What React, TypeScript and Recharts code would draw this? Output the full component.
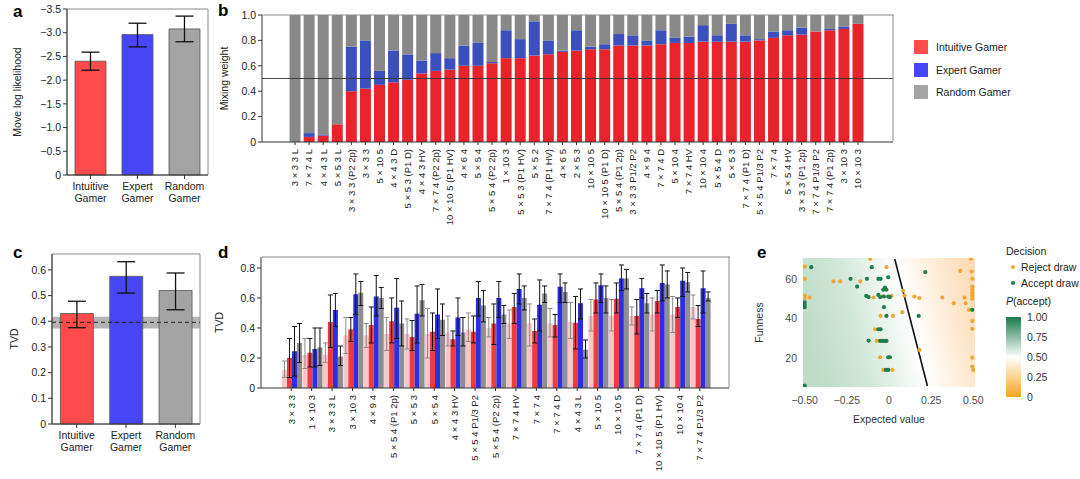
import React from 'react';
import {
  BarChart,
  Bar,
  XAxis,
  YAxis,
  ErrorBar,
  Cell,
  ReferenceLine,
  ReferenceArea,
  ScatterChart,
  Scatter,
  CartesianGrid,
} from 'recharts';

const FONT = '"Liberation Sans", Arial, Helvetica, sans-serif';

// ---- panel a / c : the three models
const gamers = ['Intuitive Gamer', 'Expert Gamer', 'Random Gamer'];
const gamerColors = ['#ff4b4b', '#4646f6', '#a3a3a3'];

const logLik = [-2.4, -2.96, -3.08];
const logLikLow = [-2.21, -2.7, -2.81];
const logLikHigh = [-2.59, -3.2, -3.35];

const tvd = [0.43, 0.575, 0.52];
const tvdLow = [0.375, 0.51, 0.445];
const tvdHigh = [0.478, 0.632, 0.588];
const noiseCeiling = 0.396;
const noiseBand = [0.372, 0.418];

// ---- panel b : mixing weights per game variant
const variantsB = [
  '3 × 3 3 L', '7 × 7 4 L', '4 × 4 3 L', '5 × 5 3 L', '3 × 3 3 (P2 2p)', '3 × 3 3',
  '5 × 10 5', '4 × 4 3 D', '5 × 5 3 (P1 D)', '4 × 4 3 HV', '7 × 7 4 (P2 2p)',
  '10 × 10 5 (P1 HV)', '4 × 6 4', '5 × 5 4', '5 × 5 4 (P2 2p)', '1 × 10 3',
  '5 × 5 3 (P1 HV)', '5 × 5 2', '7 × 7 4 (P1 HV)', '4 × 6 5', '2 × 5 3', '10 × 10 5',
  '10 × 10 5 (P1 D)', '5 × 5 4 (P1 2p)', '3 × 3 3 P1/2 P2', '4 × 9 4', '7 × 7 4 D',
  '5 × 10 4', '7 × 7 4 HV', '10 × 10 4', '5 × 5 4 D', '5 × 5 3', '7 × 7 4 (P1 D)',
  '5 × 5 4 P1/3 P2', '7 × 7 4', '5 × 5 4 HV', '3 × 3 3 (P1 2p)', '7 × 7 4 P1/3 P2',
  '7 × 7 4 (P1 2p)', '3 × 10 3', '10 × 10 3',
];
const weightIntuitive = [
  0, 0.04, 0.05, 0.14, 0.4, 0.42, 0.45, 0.47, 0.49, 0.54, 0.56, 0.57, 0.6, 0.6, 0.62,
  0.66, 0.66, 0.68, 0.69, 0.71, 0.72, 0.73, 0.73, 0.76, 0.76, 0.76, 0.77, 0.78, 0.78,
  0.79, 0.79, 0.79, 0.79, 0.8, 0.82, 0.84, 0.845, 0.87, 0.88, 0.89, 0.93,
];
const weightExpert = [
  0, 0.03, 0.01, 0, 0.35, 0.38, 0.11, 0.25, 0.2, 0.1, 0.14, 0.09, 0.16, 0.18, 0.01,
  0.22, 0.15, 0.27, 0.11, 0.01, 0.16, 0.02, 0.04, 0.09, 0.08, 0.04, 0.11, 0.04, 0.05,
  0.13, 0.05, 0.14, 0.05, 0.01, 0.05, 0.04, 0.055, 0, 0.01, 0.02, 0,
];
const weightRandom = [
  1, 0.93, 0.94, 0.86, 0.25, 0.2, 0.44, 0.28, 0.31, 0.36, 0.3, 0.34, 0.24, 0.22, 0.37,
  0.12, 0.19, 0.05, 0.2, 0.28, 0.12, 0.25, 0.23, 0.15, 0.16, 0.2, 0.12, 0.18, 0.17,
  0.08, 0.16, 0.07, 0.16, 0.19, 0.13, 0.12, 0.1, 0.13, 0.11, 0.09, 0.07,
];

// ---- panel d : TVD per variant
const variantsD = [
  '3 × 3 3', '1 × 10 3', '3 × 3 3 L', '3 × 10 3', '4 × 9 4', '5 × 5 4 (P1 2p)',
  '5 × 5 3', '5 × 5 4', '4 × 4 3 HV', '5 × 5 4 P1/3 P2', '5 × 5 4 (P2 2p)',
  '7 × 7 4 HV', '7 × 7 4', '7 × 7 4 D', '4 × 4 3 L', '5 × 10 5', '10 × 10 5',
  '7 × 7 4 (P1 D)', '10 × 10 5 (P1 HV)', '10 × 10 4', '7 × 7 4 P1/3 P2',
];
const tvdBaseline = [0.12, 0.22, 0.22, 0.35, 0.35, 0.36, 0.36, 0.36, 0.37, 0.39, 0.4, 0.43, 0.43, 0.43, 0.44, 0.48, 0.48, 0.48, 0.49, 0.49, 0.54];
const tvdBaselineLo = [0.07, 0.13, 0.17, 0.23, 0.27, 0.25, 0.26, 0.2, 0.28, 0.31, 0.34, 0.33, 0.28, 0.34, 0.33, 0.38, 0.38, 0.42, 0.38, 0.37, 0.46];
const tvdBaselineHi = [0.18, 0.33, 0.3, 0.47, 0.43, 0.47, 0.46, 0.53, 0.48, 0.5, 0.47, 0.52, 0.56, 0.53, 0.57, 0.59, 0.59, 0.54, 0.6, 0.61, 0.62];
const tvdIntuitive = [0.2, 0.235, 0.44, 0.39, 0.42, 0.445, 0.34, 0.375, 0.325, 0.375, 0.43, 0.54, 0.38, 0.42, 0.435, 0.59, 0.595, 0.48, 0.58, 0.54, 0.46];
const tvdIntuitiveLo = [0.07, 0.14, 0.27, 0.31, 0.3, 0.3, 0.25, 0.25, 0.28, 0.3, 0.29, 0.43, 0.3, 0.34, 0.26, 0.5, 0.5, 0.36, 0.5, 0.47, 0.41];
const tvdIntuitiveHi = [0.33, 0.33, 0.62, 0.47, 0.54, 0.6, 0.45, 0.5, 0.38, 0.48, 0.56, 0.63, 0.46, 0.49, 0.61, 0.7, 0.7, 0.59, 0.65, 0.6, 0.55];
const tvdExpert = [0.245, 0.26, 0.52, 0.625, 0.61, 0.535, 0.495, 0.49, 0.47, 0.6, 0.6, 0.66, 0.555, 0.675, 0.565, 0.685, 0.73, 0.665, 0.7, 0.715, 0.665];
const tvdExpertLo = [0.08, 0.14, 0.41, 0.49, 0.48, 0.33, 0.3, 0.33, 0.35, 0.48, 0.47, 0.56, 0.38, 0.57, 0.46, 0.57, 0.65, 0.6, 0.58, 0.61, 0.5];
const tvdExpertHi = [0.41, 0.4, 0.63, 0.76, 0.75, 0.73, 0.68, 0.66, 0.6, 0.71, 0.71, 0.76, 0.72, 0.76, 0.66, 0.76, 0.82, 0.73, 0.82, 0.8, 0.78];
const tvdRandom = [0.3, 0.27, 0.21, 0.635, 0.6, 0.43, 0.585, 0.455, 0.37, 0.55, 0.49, 0.6, 0.63, 0.64, 0.255, 0.6, 0.73, 0.565, 0.69, 0.705, 0.6];
const tvdRandomLo = [0.17, 0.15, 0.15, 0.55, 0.53, 0.28, 0.48, 0.35, 0.28, 0.44, 0.43, 0.52, 0.57, 0.57, 0.2, 0.5, 0.66, 0.5, 0.6, 0.64, 0.58];
const tvdRandomHi = [0.43, 0.4, 0.28, 0.71, 0.67, 0.58, 0.69, 0.56, 0.47, 0.65, 0.55, 0.68, 0.68, 0.7, 0.32, 0.68, 0.79, 0.63, 0.78, 0.77, 0.64];

// ---- panel e : draw decisions
const rejectX = [
  -0.112, -0.5, -0.015, -0.5, -0.329, -0.29, -0.17, -0.5, -0.47, -0.5, -0.092, -0.044,
  0.015, 0.083, 0.093, 0.15, 0.18, 0.316, 0.384, 0.422, 0.448, 0.455, 0.475, 0.486,
  0.49, 0.494, 0.494, 0.494, 0.494, 0.494, 0.494, 0.494, 0.494, 0.494, 0.494, 0.5,
  -0.05, 0.024, 0.079, -0.083, -0.073, -0.053, -0.034, 0.02, 0.18,
];
const rejectY = [
  70.1, 66.2, 65.9, 60, 58.7, 58.7, 58.7, 51.4, 50.6, 50.3, 50.6, 51.1,
  51.4, 54, 51.6, 51.1, 50.3, 50.6, 47.7, 64, 50.6, 47.7, 44.4, 70.1,
  63.7, 60, 56.1, 54.5, 53, 51.5, 50, 38.8, 34.8, 20.3, 15.8, 14.1,
  41.3, 41.3, 43.2, 34.6, 28.7, 20.5, 14.1, 14.1, 24.2,
];
const acceptX = [
  -0.461, -0.102, -0.228, -0.131, -0.063, -0.05, -0.005, -0.189, -0.024, -0.034, -0.015,
  -0.135, -0.121, -0.063, -0.053, -0.03, -0.005, 0.005, -0.5, -0.5, -0.5, -0.03, -0.015,
  0.176, 0.215, 0.494, -0.063, -0.05, -0.121, -0.053, -0.038, -0.024, -0.015, -0.005,
  0.005, -0.019, -0.005, -0.5,
];
const acceptY = [
  65.9, 65.9, 60, 60, 60, 60, 60.8, 56.1, 55.6, 54.5, 54.5,
  51.4, 50.8, 51.9, 50.8, 51.1, 51.1, 50.8, 48.1, 46.9, 45.7, 45.7, 41.3,
  41.3, 63.4, 44.4, 34.6, 34.6, 28.9, 28.7, 28.7, 28.7, 28.7, 20.5,
  20.5, 14.1, 14.1, 6.2,
];
const boundaryX = [0.034, 0.228];
const boundaryY = [70, 6];

const errOf = (v: number, a: number, b: number) => [v - Math.min(a, b), Math.max(a, b) - v];

const GamerTick = ({ x, y, payload }: any) => {
  const [first, second] = String(payload.value).split(' ');
  return (
    <text x={x} y={y} textAnchor="middle" fill="#222" fontSize={10.5} fontFamily={FONT}>
      <tspan x={x} dy={9}>{first}</tspan>
      <tspan x={x} dy={11.5}>{second}</tspan>
    </text>
  );
};

const RotTick = ({ x, y, payload }: any) => (
  <g transform={`translate(${x},${y})`}>
    <text x={0} y={0} dx={-2} dy="0.35em" transform="rotate(-90)" textAnchor="end" fill="#222" fontSize={9.5} fontFamily={FONT}>
      {payload.value}
    </text>
  </g>
);

const tickStyle = { fontSize: 10.5, fill: '#222', fontFamily: FONT };
const axisStroke = { stroke: '#333' };

const fmtNeg = (v: number) => (v === 0 ? '0' : '\u2212' + Math.abs(v).toFixed(1));
const fmtDec = (v: number) => (v === 0 ? '0' : v.toFixed(1));
const fmtE = (v: number) => (v === 0 ? '0' : (v < 0 ? '\u2212' : '') + Math.abs(v).toFixed(2));

const PanelLetter = ({ ch, x, y }: { ch: string; x: number; y: number }) => (
  <div style={{ position: 'absolute', left: x, top: y, fontWeight: 700, fontSize: 17, lineHeight: '17px', fontFamily: FONT }}>{ch}</div>
);

// layout of the wide bar panels (b and d), shared by the chart and its frame
const B = { w: 700, h: 235, top: 15, right: 12, yAxisW: 57, xAxisH: 93 };
const D = { w: 535, h: 230, top: 12, right: 11, yAxisW: 56, xAxisH: 87 };

// top + right edge of the plot box, drawn over the chart
const Frame = ({ l }: { l: typeof B }) => (
  <div
    style={{
      position: 'absolute',
      left: l.yAxisW,
      top: l.top,
      width: l.w - l.right - l.yAxisW,
      height: l.h - l.xAxisH - l.top,
      borderTop: '1px solid #8a8a8a',
      borderRight: '1px solid #8a8a8a',
      boxSizing: 'border-box',
      transform: 'translate(0.5px, -0.5px)',
      pointerEvents: 'none',
    }}
  />
);

function PanelA() {
  const data = gamers.map((g, i) => ({ name: g, value: logLik[i], err: errOf(logLik[i], logLikLow[i], logLikHigh[i]) }));
  return (
    <BarChart width={216} height={215} data={data} margin={{ top: 9, right: 8, left: 0, bottom: 0 }} barCategoryGap="17%">
      <XAxis dataKey="name" interval={0} height={40} tick={<GamerTick />} tickLine={axisStroke} axisLine={axisStroke} tickSize={4} />
      <YAxis
        domain={[-3.5, 0]}
        reversed
        ticks={[0, -0.5, -1, -1.5, -2, -2.5, -3, -3.5]}
        tickFormatter={fmtNeg}
        width={67}
        tick={tickStyle}
        tickLine={axisStroke}
        axisLine={axisStroke}
        tickSize={4}
        label={{ value: 'Move log likelihood', angle: -90, position: 'insideLeft', offset: 17, style: { textAnchor: 'middle', fontSize: 10.5, fill: '#222', fontFamily: FONT } }}
      />
      <ReferenceArea y1={0} y2={-3.5} fill="none" stroke="#8a8a8a" />
      <Bar dataKey="value" isAnimationActive={false} stroke="#555" strokeWidth={0.8}>
        {data.map((d, i) => (
          <Cell key={d.name} fill={gamerColors[i]} />
        ))}
        <ErrorBar dataKey="err" width={9} stroke="#111" strokeWidth={1.3} />
      </Bar>
    </BarChart>
  );
}

function PanelB() {
  const data = variantsB.map((v, i) => ({ name: v, intuitive: weightIntuitive[i], expert: weightExpert[i], random: weightRandom[i] }));
  return (
    <BarChart width={B.w} height={B.h} data={data} margin={{ top: B.top, right: B.right, left: 0, bottom: 0 }} barCategoryGap="11%">
      <XAxis dataKey="name" interval={0} height={B.xAxisH} tick={<RotTick />} tickLine={axisStroke} axisLine={axisStroke} tickSize={3} padding={{ left: 26, right: 28 }} />
      <YAxis
        domain={[0, 1]}
        ticks={[0, 0.2, 0.4, 0.6, 0.8, 1]}
        tickFormatter={fmtDec}
        width={B.yAxisW}
        tick={tickStyle}
        tickLine={axisStroke}
        axisLine={axisStroke}
        tickSize={4}
        label={{ value: 'Mixing weight', angle: -90, position: 'insideLeft', offset: 19, style: { textAnchor: 'middle', fontSize: 10.5, fill: '#222', fontFamily: FONT } }}
      />
      <Bar dataKey="intuitive" stackId="w" fill="#e8232b" isAnimationActive={false} />
      <Bar dataKey="expert" stackId="w" fill="#3b4fbd" isAnimationActive={false} />
      <Bar dataKey="random" stackId="w" fill="#888888" isAnimationActive={false} />
      <ReferenceLine y={0.5} stroke="#333" strokeWidth={0.9} />
    </BarChart>
  );
}

function LegendB() {
  return (
    <div style={{ position: 'absolute', left: 914, top: 36, fontFamily: FONT, fontSize: 10.5, color: '#222' }}>
      {gamers.map((g, i) => (
        <div key={g} style={{ display: 'flex', alignItems: 'center', height: 22.5 }}>
          <div style={{ width: 14, height: 14, background: gamerColors[i], marginRight: 8 }} />
          <span>{g}</span>
        </div>
      ))}
    </div>
  );
}

function PanelC() {
  const data = gamers.map((g, i) => ({ name: g, value: tvd[i], err: errOf(tvd[i], tvdLow[i], tvdHigh[i]) }));
  return (
    <BarChart width={210} height={230} data={data} margin={{ top: 9, right: 10, left: 0, bottom: 0 }} barCategoryGap="17%">
      <XAxis dataKey="name" interval={0} height={51} tick={<GamerTick />} tickLine={axisStroke} axisLine={axisStroke} tickSize={4} />
      <YAxis
        domain={[0, 0.662]}
        ticks={[0, 0.1, 0.2, 0.3, 0.4, 0.5, 0.6]}
        tickFormatter={fmtDec}
        width={52}
        tick={tickStyle}
        tickLine={axisStroke}
        axisLine={axisStroke}
        tickSize={4}
        label={{ value: 'TVD', angle: -90, position: 'insideLeft', offset: 14, style: { textAnchor: 'middle', fontSize: 10.5, fill: '#222', fontFamily: FONT } }}
      />
      <Bar dataKey="value" isAnimationActive={false} stroke="#555" strokeWidth={0.8}>
        {data.map((d, i) => (
          <Cell key={d.name} fill={gamerColors[i]} />
        ))}
        <ErrorBar dataKey="err" width={9} stroke="#111" strokeWidth={1.3} />
      </Bar>
      <ReferenceArea y1={noiseBand[0]} y2={noiseBand[1]} fill="#777" fillOpacity={0.55} stroke="none" />
      <ReferenceLine y={noiseCeiling} stroke="#222" strokeDasharray="4 3" strokeWidth={1} />
      <ReferenceArea y1={0} y2={0.662} fill="none" stroke="#8a8a8a" />
    </BarChart>
  );
}

function PanelD() {
  const data = variantsD.map((v, i) => ({
    name: v,
    baseline: tvdBaseline[i],
    baselineErr: errOf(tvdBaseline[i], tvdBaselineLo[i], tvdBaselineHi[i]),
    intuitive: tvdIntuitive[i],
    intuitiveErr: errOf(tvdIntuitive[i], tvdIntuitiveLo[i], tvdIntuitiveHi[i]),
    expert: tvdExpert[i],
    expertErr: errOf(tvdExpert[i], tvdExpertLo[i], tvdExpertHi[i]),
    random: tvdRandom[i],
    randomErr: errOf(tvdRandom[i], tvdRandomLo[i], tvdRandomHi[i]),
  }));
  return (
    <BarChart width={D.w} height={D.h} data={data} margin={{ top: D.top, right: D.right, left: 0, bottom: 0 }} barCategoryGap="5%" barGap={0}>
      <XAxis dataKey="name" interval={0} height={D.xAxisH} tick={<RotTick />} tickLine={axisStroke} axisLine={axisStroke} tickSize={3} padding={{ left: 20, right: 19 }} />
      <YAxis
        domain={[0, 0.873]}
        ticks={[0, 0.1, 0.2, 0.3, 0.4, 0.5, 0.6, 0.7, 0.8]}
        tickFormatter={fmtDec}
        width={D.yAxisW}
        tick={tickStyle}
        tickLine={axisStroke}
        axisLine={axisStroke}
        tickSize={4}
        label={{ value: 'TVD', angle: -90, position: 'insideLeft', offset: 14, style: { textAnchor: 'middle', fontSize: 10.5, fill: '#222', fontFamily: FONT } }}
      />
      <Bar dataKey="baseline" fill="#f8c6cc" isAnimationActive={false}>
        <ErrorBar dataKey="baselineErr" width={2.5} stroke="#8a8a8a" strokeWidth={1} />
      </Bar>
      <Bar dataKey="intuitive" fill="#f03b3b" isAnimationActive={false}>
        <ErrorBar dataKey="intuitiveErr" width={2.5} stroke="#111" strokeWidth={1} />
      </Bar>
      <Bar dataKey="expert" fill="#2d2de2" isAnimationActive={false}>
        <ErrorBar dataKey="expertErr" width={2.5} stroke="#111" strokeWidth={1} />
      </Bar>
      <Bar dataKey="random" fill="#8e8e8e" isAnimationActive={false}>
        <ErrorBar dataKey="randomErr" width={2.5} stroke="#111" strokeWidth={1} />
      </Bar>
    </BarChart>
  );
}

const Dot = (color: string) => (p: any) => <circle cx={p.cx} cy={p.cy} r={2.1} fill={color} />;

function PanelE() {
  const reject = rejectX.map((x, i) => ({ x, y: rejectY[i] }));
  const accept = acceptX.map((x, i) => ({ x, y: acceptY[i] }));
  const eTick = { fontSize: 10.5, fill: '#4a4a4a', fontFamily: FONT };
  return (
    <ScatterChart width={240} height={185} margin={{ top: 13, right: 10, left: 0, bottom: 0 }}>
      <defs>
        <linearGradient id="paccept" x1="0" y1="0.5" x2="1" y2="0.306">
          <stop offset="0" stopColor="#bcdcc8" />
          <stop offset="0.3" stopColor="#d3e8da" />
          <stop offset="0.608" stopColor="#ffffff" />
          <stop offset="1" stopColor="#fddcb6" />
        </linearGradient>
      </defs>
      <XAxis
        type="number"
        dataKey="x"
        domain={[-0.51, 0.51]}
        ticks={[-0.5, -0.25, 0, 0.25, 0.5]}
        tickFormatter={fmtE}
        height={43}
        tick={eTick}
        tickLine={false}
        axisLine={false}
        tickSize={8}
        allowDataOverflow
        label={{ value: 'Expected value', position: 'insideBottom', offset: 7, style: { fontSize: 10.5, fill: '#333', fontFamily: FONT } }}
      />
      <YAxis
        type="number"
        dataKey="y"
        domain={[5.5, 70.5]}
        ticks={[20, 40, 60]}
        width={58}
        tick={eTick}
        tickLine={false}
        axisLine={false}
        tickSize={4}
        allowDataOverflow
        label={{ value: 'Funness', angle: -90, position: 'insideLeft', offset: 14, style: { textAnchor: 'middle', fontSize: 10.5, fill: '#333', fontFamily: FONT } }}
      />
      <ReferenceArea x1={-0.51} x2={0.51} y1={5.5} y2={70.5} fill="url(#paccept)" fillOpacity={1} stroke="none" />
      <CartesianGrid stroke="#ffffff" strokeOpacity={0.45} />
      <ReferenceLine
        segment={[
          { x: boundaryX[0], y: boundaryY[0] },
          { x: boundaryX[1], y: boundaryY[1] },
        ]}
        stroke="#111"
        strokeWidth={1.6}
      />
      <Scatter name="Reject draw" data={reject} fill="#f2a633" shape={Dot('#f2a633')} isAnimationActive={false} />
      <Scatter name="Accept draw" data={accept} fill="#1f7d4d" shape={Dot('#1f7d4d')} isAnimationActive={false} />
    </ScatterChart>
  );
}

const colorbarTicks = ['1.00', '0.75', '0.50', '0.25', '0'];

function LegendE() {
  return (
    <svg width={80} height={175} style={{ position: 'absolute', left: 1000, top: 240 }} fontFamily={FONT}>
      <defs>
        <linearGradient id="cbar" x1="0" y1="0" x2="0" y2="1">
          <stop offset="0" stopColor="#1b7a4a" />
          <stop offset="0.5" stopColor="#ffffff" />
          <stop offset="1" stopColor="#f5a51f" />
        </linearGradient>
      </defs>
      <text x={6} y={15} fontSize={10.5} fill="#222">Decision</text>
      <circle cx={13} cy={27} r={2.1} fill="#f2a633" />
      <text x={21} y={31} fontSize={10.5} fill="#222">Reject draw</text>
      <circle cx={13} cy={43} r={2.1} fill="#1f7d4d" />
      <text x={21} y={47} fontSize={10.5} fill="#222">Accept draw</text>
      <text x={6} y={65} fontSize={10.5} fill="#222">
        <tspan fontStyle="italic">P</tspan>(accept)
      </text>
      <rect x={6} y={77} width={15} height={80} fill="url(#cbar)" />
      {colorbarTicks.map((t, i) => (
        <text key={t} x={27} y={77 + i * 20 + 4} fontSize={10.5} fill="#333">{t}</text>
      ))}
    </svg>
  );
}

export default function App() {
  return (
    <div style={{ position: 'absolute', left: 0, top: 0, width: 1080, height: 479, background: '#fff', fontFamily: FONT, overflow: 'hidden' }}>
      <div style={{ position: 'absolute', left: 0, top: 0 }}><PanelA /></div>
      <div style={{ position: 'absolute', left: 205, top: 0, width: B.w, height: B.h }}>
        <PanelB />
        <Frame l={B} />
      </div>
      <LegendB />
      <div style={{ position: 'absolute', left: 0, top: 245 }}><PanelC /></div>
      <div style={{ position: 'absolute', left: 205, top: 245, width: D.w, height: D.h }}>
        <PanelD />
        <Frame l={D} />
      </div>
      <div style={{ position: 'absolute', left: 745, top: 245 }}><PanelE /></div>
      <LegendE />
      <PanelLetter ch="a" x={13} y={3} />
      <PanelLetter ch="b" x={218} y={2} />
      <PanelLetter ch="c" x={13} y={244} />
      <PanelLetter ch="d" x={218} y={244} />
      <PanelLetter ch="e" x={757} y={244} />
    </div>
  );
}
